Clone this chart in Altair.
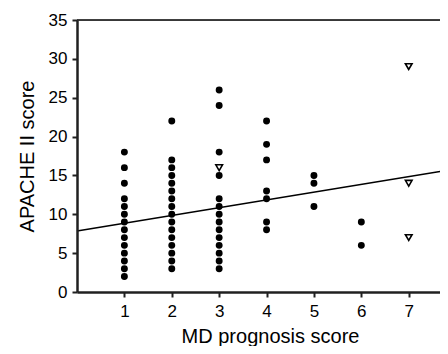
import altair as alt
import pandas as pd

# Filled circles: MD prognosis score -> APACHE II scores
score_1 = [2, 3, 4, 5, 6, 7, 8, 9, 10, 11, 12, 14, 16, 18]
score_2 = [3, 4, 5, 6, 7, 8, 9, 10, 11, 12, 13, 14, 15, 16, 17, 22]
score_3 = [3, 4, 5, 6, 7, 8, 9, 10, 11, 12, 15, 18, 24, 26]
score_4 = [8, 9, 12, 13, 17, 19, 22]
score_5 = [11, 14, 15]
score_6 = [6, 9]

# Open down-triangles
tri_x = [3, 7, 7, 7]
tri_y = [16, 7, 14, 29]

# Regression line end points
line_x = [0, 7.66]
line_y = [7.85, 15.5]

x_ticks = [1, 2, 3, 4, 5, 6, 7]
y_ticks = [0, 5, 10, 15, 20, 25, 30, 35]

rows = []
for mx, vals in zip([1, 2, 3, 4, 5, 6], [score_1, score_2, score_3, score_4, score_5, score_6]):
    for v in vals:
        rows.append({"md": mx, "apache": v})
dots = pd.DataFrame(rows)
tris = pd.DataFrame({"md": tri_x, "apache": tri_y})
reg = pd.DataFrame({"md": line_x, "apache": line_y})

FONT = "Liberation Sans"
W, H = 363, 272
AX = "#202020"

xscale = alt.Scale(domain=[0, 7.66], nice=False, zero=False)
yscale = alt.Scale(domain=[0, 35], nice=False)

xaxis = alt.Axis(
    values=x_ticks, title="MD prognosis score", labelPadding=6, tickSize=5,
    domainColor=AX, domainWidth=2.5, tickColor=AX, tickWidth=2, zindex=1,
    titleX=193, titleY=50, titleBaseline="alphabetic", titleAlign="center",
)
yaxis = alt.Axis(
    values=y_ticks, title="APACHE II score", labelPadding=5, tickSize=5,
    domainColor=AX, domainWidth=2.5, tickColor=AX, tickWidth=2, zindex=1,
    titleX=-44, titleY=136, titleAngle=-90, titleBaseline="alphabetic", titleAlign="center",
)

X = alt.X("md:Q", scale=xscale, axis=xaxis)
Y = alt.Y("apache:Q", scale=yscale, axis=yaxis)

points = alt.Chart(dots).mark_point(
    shape="circle", filled=True, color="black", size=48, opacity=1
).encode(x=X, y=Y)

triangles = alt.Chart(tris).mark_point(
    shape="triangle-down", filled=False, fill="white", fillOpacity=1,
    stroke="black", strokeWidth=1.6, size=44, opacity=1
).encode(x=X, y=Y)

line = alt.Chart(reg).mark_line(color="black", strokeWidth=1.5).encode(x=X, y=Y)

top = alt.Chart(pd.DataFrame({"apache": [35]})).mark_rule(
    color="black", strokeWidth=1.5
).encode(y=Y)

chart = alt.layer(line, points, triangles, top).properties(
    width=W, height=H,
    autosize=alt.AutoSizeParams(type="none"),
    padding={"left": 69, "top": 12, "right": 0, "bottom": 54},
).configure_axis(
    grid=False, labelOverlap=False,
    labelFont=FONT, labelFontSize=17, labelColor="black",
    titleFont=FONT, titleFontSize=20, titleFontWeight="normal", titleColor="black",
)

chart.save("out.html", embed_options={"renderer": "svg", "actions": False})
